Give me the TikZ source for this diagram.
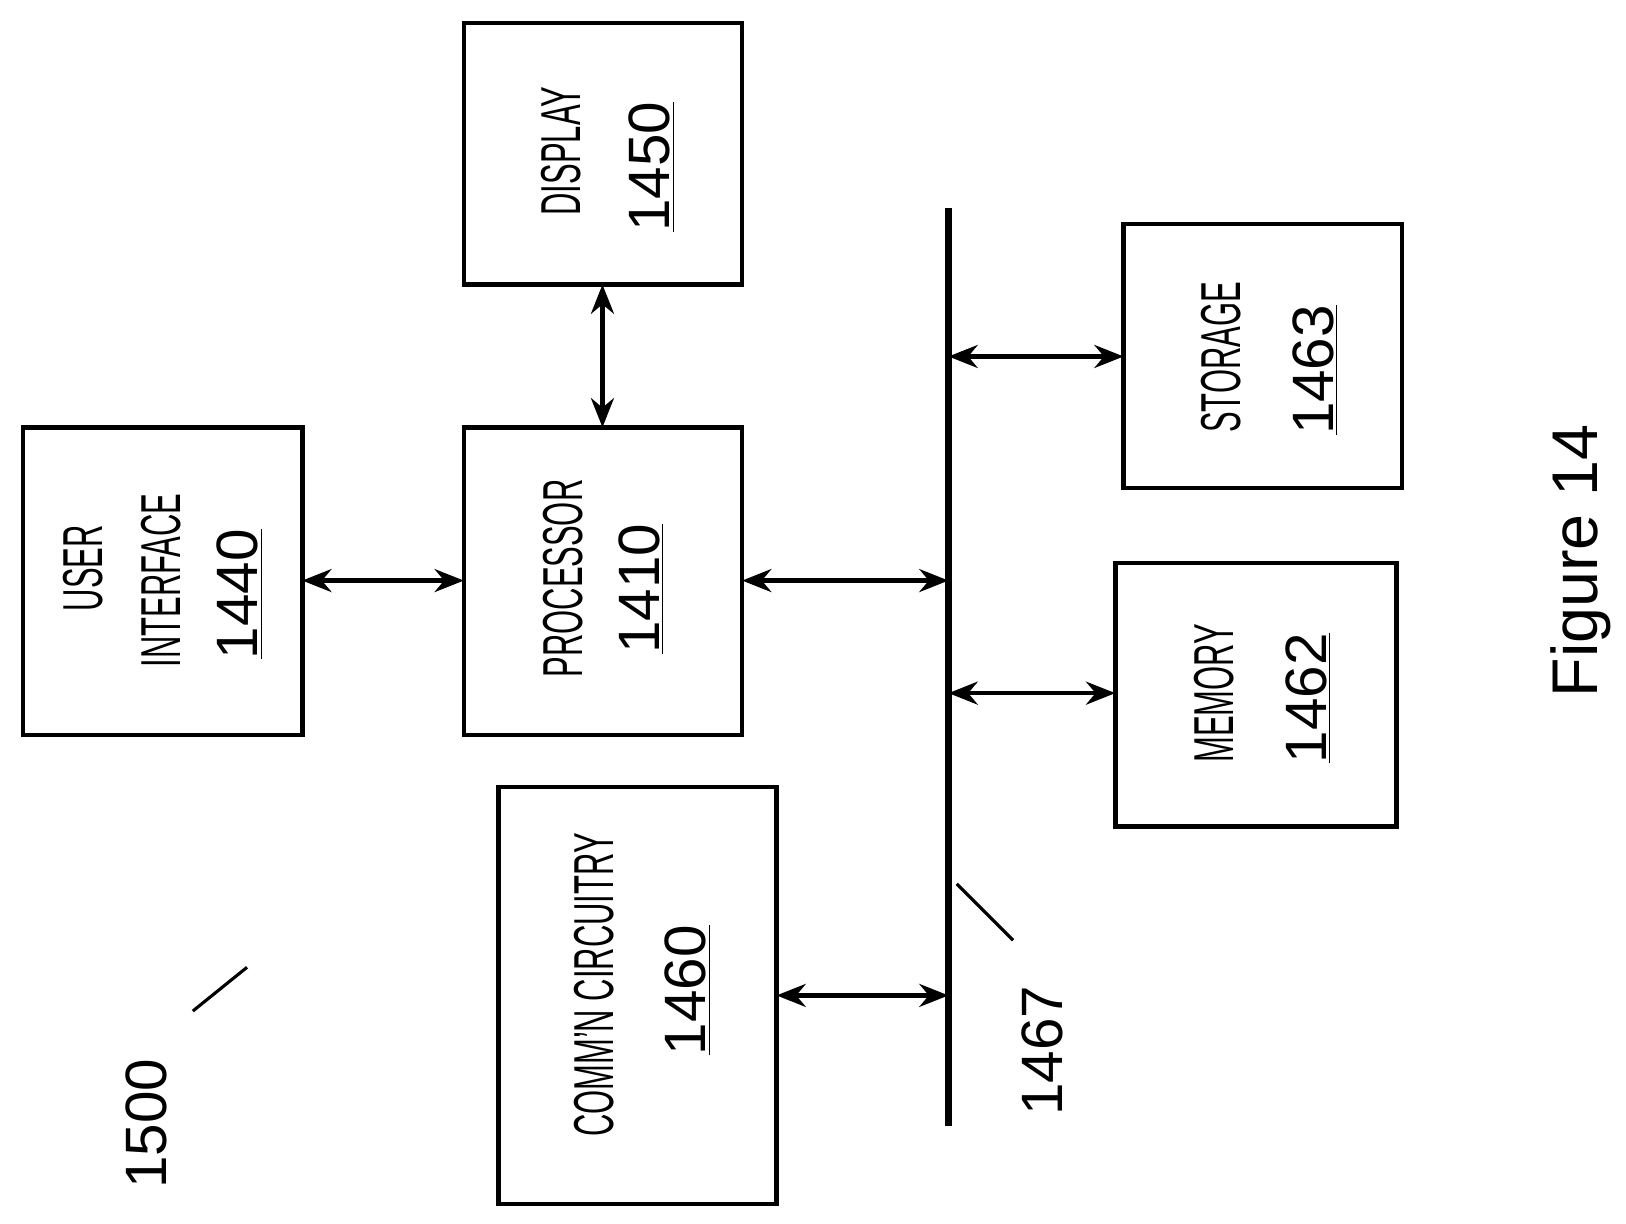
\documentclass[tikz,border=0pt]{standalone}
\usepackage{fontspec}
\setmainfont{Liberation Sans}
\usetikzlibrary{arrows.meta}
\begin{document}
\tikzset{every picture/.style={line width=0.75pt}}
\tikzset{
  blk/.style={draw, line width=2.2pt},
  lbl/.style={rotate=90, inner sep=0pt, font=\fontsize{27}{30}\selectfont},
  num/.style={rotate=90, inner sep=0pt, font=\fontsize{28}{30}\selectfont},
  bi/.style={line width=2.2pt, {Stealth[length=14pt,width=11pt]}-{Stealth[length=14pt,width=11pt]}}
}
\newcommand{\cond}[1]{\scalebox{0.55}[1]{#1}}
\begin{tikzpicture}[x=0.5pt,y=0.5pt,yscale=-1]
\useasboundingbox (0,0) rectangle (1560,1174);

%Blocks
\draw [blk] (445,22) rectangle (712,273) ;
\draw [blk] (22,410) rectangle (290,705) ;
\draw [blk] (445,410) rectangle (712,705) ;
\draw [blk] (478,755) rectangle (745,1155) ;
\draw [blk] (1078,215) rectangle (1345,468) ;
\draw [blk] (1070,540) rectangle (1340,793) ;
\coordinate (dispS) at (578,273);
\coordinate (procN) at (578,410);
\coordinate (uiE) at (290,557);
\coordinate (procW) at (445,557);
\coordinate (procE) at (712,557);
\coordinate (commE) at (745,955);
\coordinate (storW) at (1078,342);
\coordinate (memW) at (1070,665);

%Bus
\coordinate (busT) at (910,200);
\coordinate (busB) at (910,1080);
\draw [line width=3.5pt] (busT) -- (busB) ;

%Arrows
\draw [bi] (dispS) -- (procN) ;
\draw [bi] (uiE) -- (procW) ;
\draw [bi] (procE) -- (910,557) ;
\draw [bi] (910,342) -- (storW) ;
\draw [bi] (910,665) -- (memW) ;
\draw [bi] (commE) -- (910,955) ;

%Leaders
\draw [line width=1.5pt] (918,848) -- (972,902) ;
\draw [line width=1.5pt] (185,970) -- (237,928) ;

% Text Nodes
\node (tdisp) [lbl] at (538,145) {\cond{DISPLAY}};
\node (ndisp) [num] at (625,160) {\underline{1450}};
\node (tui1) [lbl] at (80,545) {\cond{USER}};
\node (tui2) [lbl] at (155,557) {\cond{INTERFACE}};
\node (nui) [num] at (230,570) {\underline{1440}};
\node (tproc) [lbl] at (540,555) {\cond{PROCESSOR}};
\node (nproc) [num] at (615,565) {\underline{1410}};
\node (tcomm) [lbl] at (570,945) {\cond{COMM'N CIRCUITRY}};
\node (ncomm) [num] at (660,950) {\underline{1460}};
\node (tstor) [lbl] at (1172,343) {\cond{STORAGE}};
\node (nstor) [num] at (1262,355) {\underline{1463}};
\node (tmem) [lbl] at (1165,665) {\cond{MEMORY}};
\node (nmem) [num] at (1255,670) {\underline{1462}};
\node (nbus) [num] at (1000,1008) {1467};
\node (nsys) [num] at (140,1078) {1500};
\node (fig) [rotate=90, inner sep=0pt, font=\fontsize{31}{34}\selectfont] at (1517,538) {Figure 14};

\end{tikzpicture}
\end{document}
